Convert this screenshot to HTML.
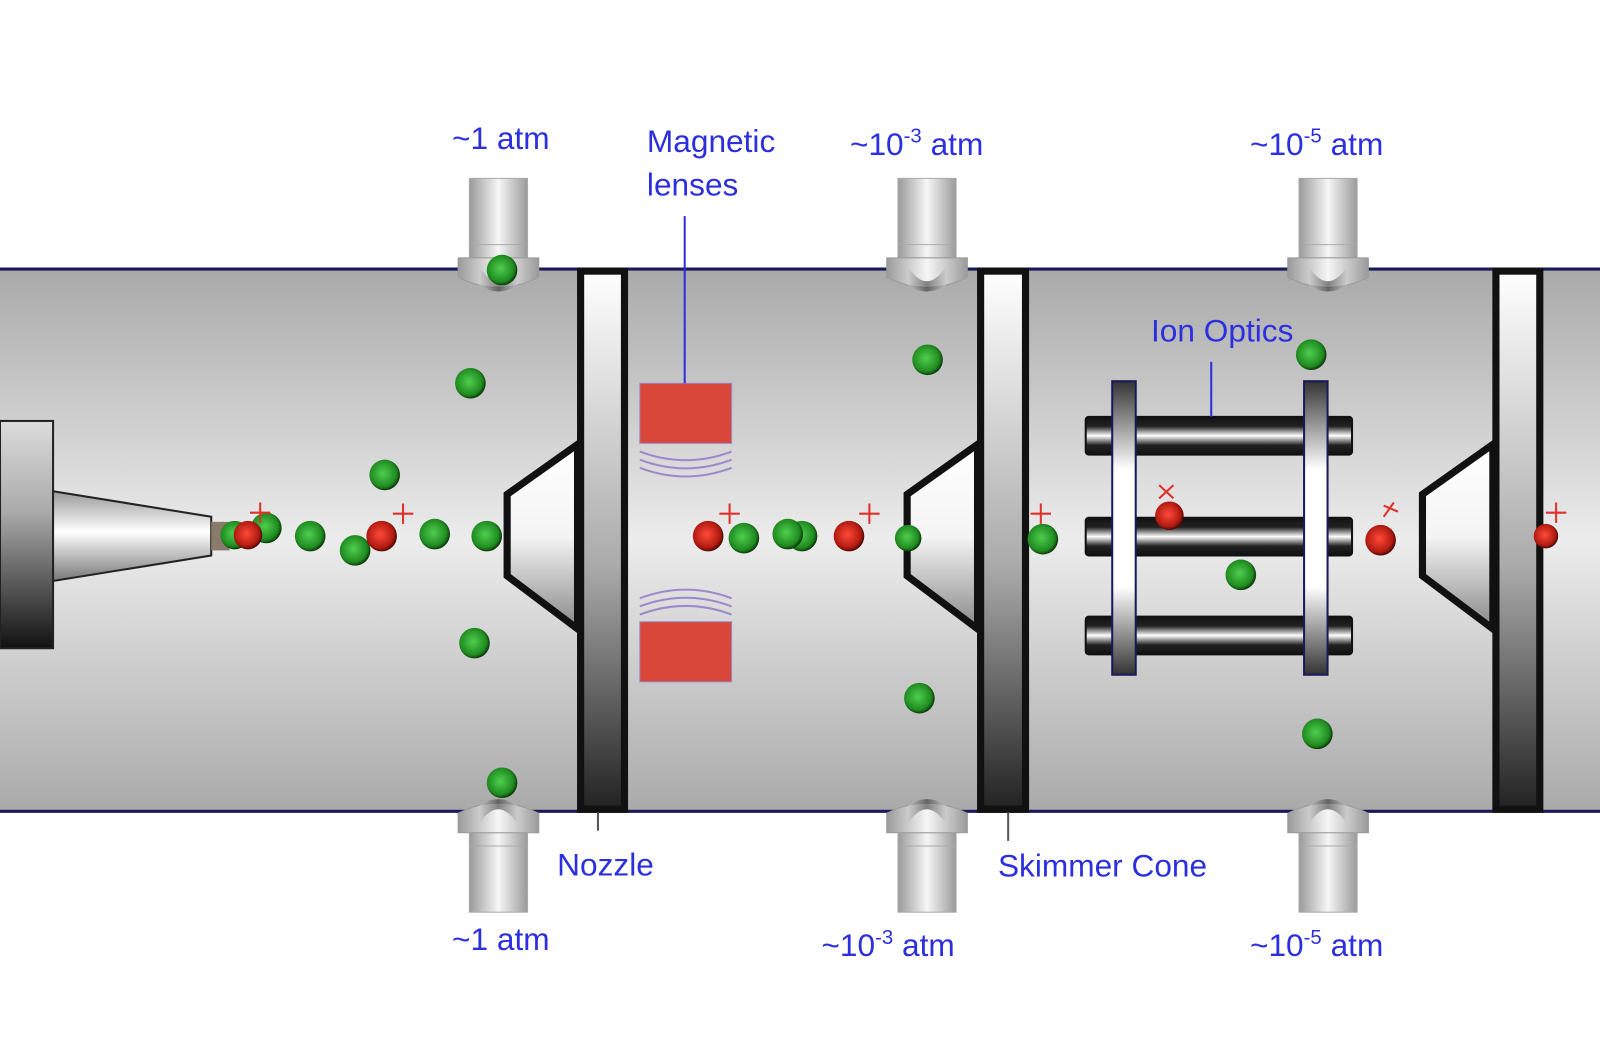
<!DOCTYPE html>
<html><head><meta charset="utf-8"><style>
html,body{margin:0;padding:0;background:#fff;width:1600px;height:1060px;overflow:hidden}
svg{display:block}
text{font-family:"Liberation Sans",Arial,sans-serif;fill:#2b2fe0;font-size:31px}
</style></head><body>
<svg width="1600" height="1060" viewBox="0 0 1568 1040" preserveAspectRatio="none" xmlns="http://www.w3.org/2000/svg">
<defs>
<linearGradient id="tube" x1="0" y1="0" x2="0" y2="1">
<stop offset="0" stop-color="#a9a9a9"/><stop offset="0.5" stop-color="#ececec"/><stop offset="1" stop-color="#a9a9a9"/></linearGradient>
<linearGradient id="plate" x1="0" y1="0" x2="0" y2="1">
<stop offset="0" stop-color="#fff"/><stop offset="0.55" stop-color="#aaa"/><stop offset="1" stop-color="#222"/></linearGradient>
<linearGradient id="cone" x1="0" y1="0" x2="0" y2="1">
<stop offset="0" stop-color="#fff"/><stop offset="0.5" stop-color="#f4f4f4"/><stop offset="1" stop-color="#888"/></linearGradient>
<linearGradient id="src" x1="0" y1="0" x2="0" y2="1">
<stop offset="0" stop-color="#dcdcdc"/><stop offset="0.4" stop-color="#aaa"/><stop offset="1" stop-color="#111"/></linearGradient>
<linearGradient id="nz" x1="0" y1="0" x2="0" y2="1">
<stop offset="0" stop-color="#999"/><stop offset="0.45" stop-color="#fff"/><stop offset="1" stop-color="#777"/></linearGradient>
<linearGradient id="cyl" x1="0" y1="0" x2="1" y2="0">
<stop offset="0" stop-color="#9a9a9a"/><stop offset="0.5" stop-color="#f6f6f6"/><stop offset="1" stop-color="#9a9a9a"/></linearGradient>
<linearGradient id="fl" x1="0" y1="0" x2="1" y2="0">
<stop offset="0" stop-color="#ccc"/><stop offset="0.5" stop-color="#333"/><stop offset="1" stop-color="#ccc"/></linearGradient>
<linearGradient id="rod" x1="0" y1="0" x2="0" y2="1">
<stop offset="0" stop-color="#111"/><stop offset="0.25" stop-color="#222"/><stop offset="0.5" stop-color="#fff"/><stop offset="0.75" stop-color="#222"/><stop offset="1" stop-color="#111"/></linearGradient>
<linearGradient id="vplate" x1="0" y1="0" x2="0" y2="1">
<stop offset="0" stop-color="#333"/><stop offset="0.3" stop-color="#fff"/><stop offset="0.7" stop-color="#fff"/><stop offset="1" stop-color="#333"/></linearGradient>
<radialGradient id="g" cx="0.45" cy="0.45" r="0.55"><stop offset="0" stop-color="#4fcf4f"/><stop offset="0.8" stop-color="#1f8a1f"/><stop offset="1" stop-color="#0b3a0b"/></radialGradient>
<radialGradient id="r" cx="0.45" cy="0.45" r="0.55"><stop offset="0" stop-color="#ff4a3a"/><stop offset="0.8" stop-color="#b01a10"/><stop offset="1" stop-color="#4a0a05"/></radialGradient>
<g id="portT">
<rect x="460" y="175" width="57" height="78" fill="url(#cyl)" stroke="#aaa"/>
<line x1="460" y1="240" x2="517" y2="240" stroke="#aaa"/>
<path d="M449 253 H528 V272 Q488 292 449 272 Z" fill="url(#cyl)" stroke="#999"/>
<path d="M470 262 Q488 290 507 262 V280 Q488 292 470 280 Z" fill="url(#fl)" opacity="0.6"/>
</g>
</defs>
<rect width="1568" height="1040" fill="#fff"/>
<rect x="0" y="263" width="1568" height="534" fill="url(#tube)"/>
<line x1="0" y1="264" x2="1568" y2="264" stroke="#1a1a5a" stroke-width="3"/>
<line x1="0" y1="796" x2="1568" y2="796" stroke="#1a1a5a" stroke-width="3"/>

<use href="#portT"/>
<use href="#portT" x="420"/>
<use href="#portT" x="813"/>
<g transform="translate(0,1060) scale(1,-1)">
<use href="#portT" y="-10"/>
<use href="#portT" x="420" y="-10"/>
<use href="#portT" x="813" y="-10"/>
</g>

<rect x="0" y="413" width="52" height="223" fill="url(#src)" stroke="#222" stroke-width="2"/>
<path d="M52 482 L207 507 L207 545 L52 570 Z" fill="url(#nz)" stroke="#222" stroke-width="2"/>
<rect x="207" y="512" width="18" height="28" fill="#8a7a6a"/>

<g stroke="#111" stroke-width="7">
<rect x="569" y="266" width="43" height="528" fill="url(#plate)"/>
<rect x="961" y="266" width="44" height="528" fill="url(#plate)"/>
<rect x="1466" y="266" width="43" height="528" fill="url(#plate)"/>
<path d="M566 436 L497 485 L497 565 L566 617 Z" fill="url(#cone)"/>
<path d="M958 436 L889 485 L889 565 L958 617 Z" fill="url(#cone)"/>
<path d="M1463 436 L1394 485 L1394 565 L1463 617 Z" fill="url(#cone)"/>
</g>

<rect x="627" y="376" width="90" height="59" fill="#d9473a" stroke="#9a8acc"/>
<rect x="627" y="610" width="90" height="59" fill="#d9473a" stroke="#9a8acc"/>
<g fill="none" stroke="#9a8acc" stroke-width="2">
<path d="M627 443 Q672 460 717 443"/><path d="M627 451 Q672 468 717 451"/><path d="M627 459 Q672 476 717 459"/>
<path d="M627 603 Q672 586 717 603"/><path d="M627 595 Q672 578 717 595"/><path d="M627 587 Q672 570 717 587"/>
</g>

<g stroke="#111" stroke-width="2">
<rect x="1064" y="409" width="261" height="37" rx="3" fill="url(#rod)"/>
<rect x="1064" y="508" width="261" height="37" rx="3" fill="url(#rod)"/>
<rect x="1064" y="605" width="261" height="37" rx="3" fill="url(#rod)"/>
</g>
<g stroke="#1a1a5a" stroke-width="2">
<rect x="1090" y="374" width="23" height="288" fill="url(#vplate)"/>
<rect x="1278" y="374" width="23" height="288" fill="url(#vplate)"/>
</g>

<g fill="url(#g)">
<circle cx="492" cy="265" r="15"/><circle cx="461" cy="376" r="15"/><circle cx="377" cy="466" r="15"/>
<circle cx="465" cy="631" r="15"/><circle cx="492" cy="768" r="15"/><circle cx="230" cy="525" r="14"/>
<circle cx="261" cy="518" r="15"/><circle cx="304" cy="526" r="15"/><circle cx="348" cy="540" r="15"/>
<circle cx="426" cy="524" r="15"/><circle cx="477" cy="526" r="15"/>
<circle cx="729" cy="528" r="15"/><circle cx="786" cy="526" r="15"/><circle cx="772" cy="524" r="15"/>
<circle cx="890" cy="528" r="13"/><circle cx="909" cy="353" r="15"/><circle cx="901" cy="685" r="15"/>
<circle cx="1022" cy="529" r="15"/><circle cx="1285" cy="348" r="15"/><circle cx="1216" cy="564" r="15"/>
<circle cx="1291" cy="720" r="15"/>
</g>
<g fill="url(#r)">
<circle cx="243" cy="525" r="14"/><circle cx="374" cy="526" r="15"/><circle cx="694" cy="526" r="15"/>
<circle cx="832" cy="526" r="15"/><circle cx="1146" cy="506" r="14"/><circle cx="1353" cy="530" r="15"/>
<circle cx="1515" cy="526" r="12"/>
</g>
<g stroke="#e0302a" stroke-width="2" fill="none">
<path d="M255 493v20M245 503h20"/><path d="M395 494v20M385 504h20"/><path d="M715 494v20M705 504h20"/>
<path d="M852 494v20M842 504h20"/><path d="M1020 494v20M1010 504h20"/><path d="M1525 493v20M1515 503h20"/>
<path d="M1136 476l14 13M1150 476l-14 13"/><path d="M1356 507l10-14M1356 496l14 6"/>
</g>

<g stroke="#2b2fe0" stroke-width="2">
<line x1="671" y1="212" x2="671" y2="376"/>
<line x1="1187" y1="355" x2="1187" y2="409"/>
<line x1="586" y1="797" x2="586" y2="815" stroke="#555"/>
<line x1="988" y1="797" x2="988" y2="825" stroke="#555"/>
</g>

<text x="443" y="146">~1 atm</text>
<text x="634" y="149">Magnetic</text>
<text x="634" y="192">lenses</text>
<text x="833" y="152">~10<tspan dy="-12" font-size="20">-3</tspan><tspan dy="12"> atm</tspan></text>
<text x="1225" y="152">~10<tspan dy="-12" font-size="20">-5</tspan><tspan dy="12"> atm</tspan></text>
<text x="1128" y="335">Ion Optics</text>
<text x="546" y="859">Nozzle</text>
<text x="978" y="860">Skimmer Cone</text>
<text x="443" y="932">~1 atm</text>
<text x="805" y="938">~10<tspan dy="-12" font-size="20">-3</tspan><tspan dy="12"> atm</tspan></text>
<text x="1225" y="938">~10<tspan dy="-12" font-size="20">-5</tspan><tspan dy="12"> atm</tspan></text>
</svg>
</body></html>
